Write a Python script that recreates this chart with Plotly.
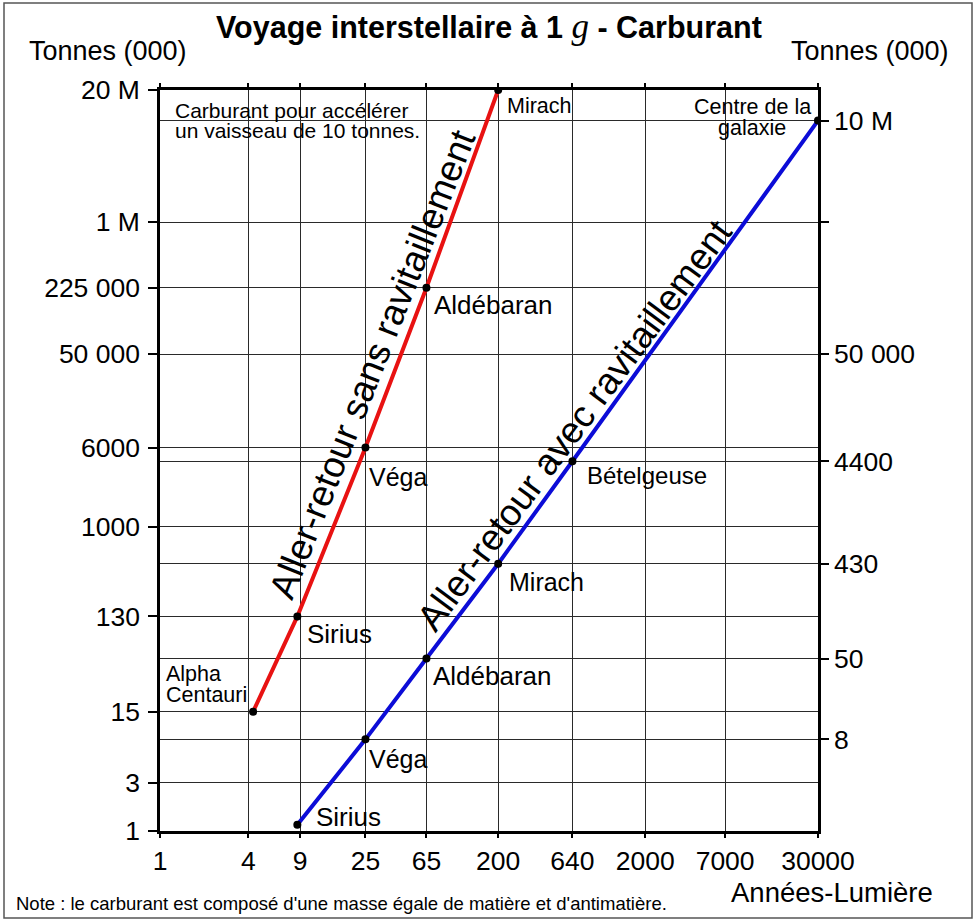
import math
import plotly.graph_objects as go

# distances (annees-lumiere) and fuel (milliers de tonnes)
red_x = [4.3, 8.6, 25, 65, 200]
red_y = [15, 130, 6000, 225000, 20000000]
red_names = ["Alpha<br>Centauri", "Sirius", "Véga", "Aldébaran", "Mirach"]

blue_x = [8.6, 25, 65, 200, 640, 30000]
blue_y = [1.15, 8, 50, 430, 4400, 10000000]
blue_names = ["Sirius", "Véga", "Aldébaran", "Mirach", "Bételgeuse", "Centre de la<br>galaxie"]

x_ticks = [1, 4, 9, 25, 65, 200, 640, 2000, 7000, 30000]
x_labels = ["1", "4", "9", "25", "65", "200", "640", "2000", "7000", "30000"]
left_ticks = [1, 3, 15, 130, 1000, 6000, 50000, 225000, 1000000, 20000000]
left_labels = ["1", "3", "15", "130", "1000", "6000", "50 000", "225 000", "1 M", "20 M"]
right_ticks = [8, 50, 430, 4400, 50000, 1000000, 10000000]
right_labels = ["8", "50", "430", "4400", "50 000", "", "10 M"]

FONT = "Liberation Sans, Arial, sans-serif"
RED = "rgb(232,18,18)"
BLUE = "rgb(12,12,215)"

# label offsets in px: (dx, dy, size, anchor) relative to each point
red_off = [(-89, -38, 21.5, "left"), (8, 18, 26, "left"), (2, 29, 25, "left"),
           (6, 17, 26, "left"), (7, 16, 21.5, "left")]
blue_off = [(17, -8, 26, "left"), (2, 20, 25, "left"), (5, 17, 26, "left"),
            (9, 18, 25, "left"), (13, 14, 24, "left"), (-66, -14, 21.5, "center")]

fig = go.Figure()
fig.add_trace(go.Scatter(x=red_x, y=red_y, mode="lines+markers",
                         line=dict(color=RED, width=4),
                         marker=dict(color="black", size=8), yaxis="y"))
fig.add_trace(go.Scatter(x=blue_x, y=blue_y, mode="lines+markers",
                         line=dict(color=BLUE, width=4),
                         marker=dict(color="black", size=8), yaxis="y2"))

ann = []
def add_labels(xs, ys, names, offs, yref):
    for xv, yv, name, (dx, dy, sz, anc) in zip(xs, ys, names, offs):
        for i, line in enumerate(name.split("<br>")):
            ann.append(dict(x=math.log10(xv), y=math.log10(yv), xref="x", yref=yref,
                            text=line, showarrow=False, xanchor=anc, yanchor="middle",
                            xshift=dx, yshift=-(dy + i * 21),
                            font=dict(family=FONT, size=sz, color="black")))

add_labels(red_x, red_y, red_names, red_off, "y")
add_labels(blue_x, blue_y, blue_names, blue_off, "y2")

def paper(text, px, py, size, anchor="center", **kw):
    ann.append(dict(x=(px - 160) / 658, y=(831 - py) / 741, xref="paper", yref="paper",
                    text=text, showarrow=False, xanchor=anchor, yanchor="middle",
                    font=dict(family=FONT, size=size, color="black"), **kw))

paper("<b>Voyage interstellaire à 1 </b><span style='font-family:Liberation Serif;font-size:35px'><i>g</i></span><b> - Carburant</b>",
      489, 26, 30.5)
paper("Tonnes (000)", 108, 51, 27)
paper("Tonnes (000)", 870, 51, 27)
paper("Années-Lumière", 832, 892, 27.5)
paper("Note : le carburant est composé d'une masse égale de matière et d'antimatière.",
      14, 903, 18.5, anchor="left")
paper("Carburant pour accélérer", 173, 110, 21, anchor="left")
paper("un vaisseau de 10 tonnes.", 173, 131, 21, anchor="left")
paper("Aller-retour sans ravitaillement", 372, 364, 37, textangle=-68.4)
paper("Aller-retour avec ravitaillement", 574, 425, 37, textangle=-53.4)

axis_common = dict(type="log", showgrid=True, gridcolor="#2a2a2a", gridwidth=1,
                   showline=True, linecolor="black", linewidth=2.5,
                   ticks="outside", tickcolor="black", tickwidth=2,
                   tickfont=dict(family=FONT, size=26.5, color="black"), zeroline=False)

fig.update_layout(
    width=976, height=923,
    margin=dict(l=160, r=158, t=90, b=92),
    paper_bgcolor="white", plot_bgcolor="white",
    showlegend=False,
    xaxis=dict(axis_common, range=[0, math.log10(30000)], tickvals=x_ticks, ticktext=x_labels,
               ticklen=4, mirror="ticks"),
    yaxis=dict(axis_common, range=[0, math.log10(20000000)], tickvals=left_ticks,
               ticktext=left_labels, ticklen=9, ticklabelstandoff=3),
    yaxis2=dict(axis_common, range=[0, math.log10(20000000)], tickvals=right_ticks,
                ticktext=right_labels, ticklen=8, overlaying="y", side="right"),
    annotations=ann,
    shapes=[dict(type="rect", xref="paper", yref="paper",
                 x0=(4 - 160) / 658, x1=(972 - 160) / 658,
                 y0=(831 - 918) / 741, y1=(831 - 3) / 741,
                 line=dict(color="#555", width=1.5))],
)

fig.write_html("out.html", config={"displayModeBar": False},
               post_script="document.body.style.margin='0';")
